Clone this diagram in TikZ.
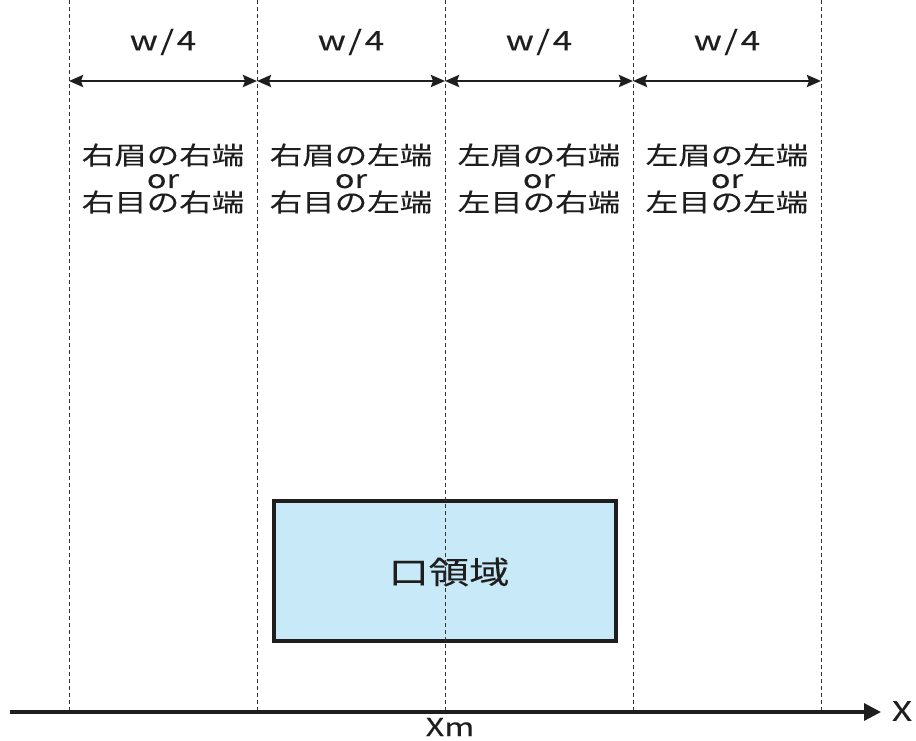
\documentclass[tikz,border=0pt]{standalone}
\usepackage{fontspec}
\setmainfont[FakeStretch=1.3,FakeBold=0.15]{Noto Sans CJK JP}
\newfontfamily\latinw[FakeStretch=1.3,FakeBold=0.15,LetterSpace=10]{Noto Sans CJK JP}
\usetikzlibrary{arrows.meta}
\definecolor{ink}{HTML}{1E1E1E}
\definecolor{boxfill}{HTML}{C8E9F8}
\begin{document}
\begin{tikzpicture}[x=1pt,y=-1pt,
  guide/.style={draw=ink!90, line width=1pt, dash pattern=on 4pt off 3pt},
  dimline/.style={draw=ink, line width=2.5pt, {Stealth[length=14pt,width=12pt,inset=2pt]}-{Stealth[length=14pt,width=12pt,inset=2pt]}},
  lbl/.style={text=ink, inner sep=0pt, font=\fontsize{25}{27}\selectfont},
  coltext/.style={text=ink, inner sep=0pt, align=center, font=\fontsize{25}{23.5}\selectfont},
  wlbl/.style={text=ink, inner sep=0pt, font=\latinw\fontsize{27}{29}\selectfont},
  region/.style={draw=ink, line width=3.5pt, fill=boxfill}]
\useasboundingbox (0,0) rectangle (916,740);
% region box
\node[region, minimum width=342pt, minimum height=140pt, inner sep=0pt] (box) at (445,571) {};
\node[lbl, font=\fontsize{31}{33}\selectfont] (boxt) at (449,572) {口領域};
% guide coordinates
\foreach \i/\x in {0/69,1/257,2/445,3/633,4/821}{
  \coordinate (top\i) at (\x,0);
  \coordinate (bot\i) at (\x,712);
  \coordinate (d\i) at (\x,81);
  \draw[guide] (top\i) -- (bot\i);
}
% dimension arrows
\foreach \a/\b in {0/1,1/2,2/3,3/4}{
  \draw[dimline] (d\a) -- (d\b);
}
\foreach \i/\x in {1/163,2/351,3/539,4/727}{
  \node[wlbl] (w\i) at (\x,42) {w/4};
}
% column texts
\node[coltext] (c1) at (163,178.5) {右眉の右端\\or\\右目の右端};
\node[coltext] (c2) at (351,178.5) {右眉の左端\\or\\右目の左端};
\node[coltext] (c3) at (539,178.5) {左眉の右端\\or\\左目の右端};
\node[coltext] (c4) at (727,178.5) {左眉の左端\\or\\左目の左端};
% axis
\coordinate (ax0) at (10,712);
\coordinate (ax1) at (881,712);
\draw[draw=ink, line width=3.2pt, -{Triangle[length=17pt,width=17pt]}] (ax0) -- (ax1);
\node[lbl, font=\fontsize{27}{29}\selectfont] (xl) at (902,711) {X};
\node[lbl] (xm) at (450,727) {Xm};
\end{tikzpicture}
\end{document}
